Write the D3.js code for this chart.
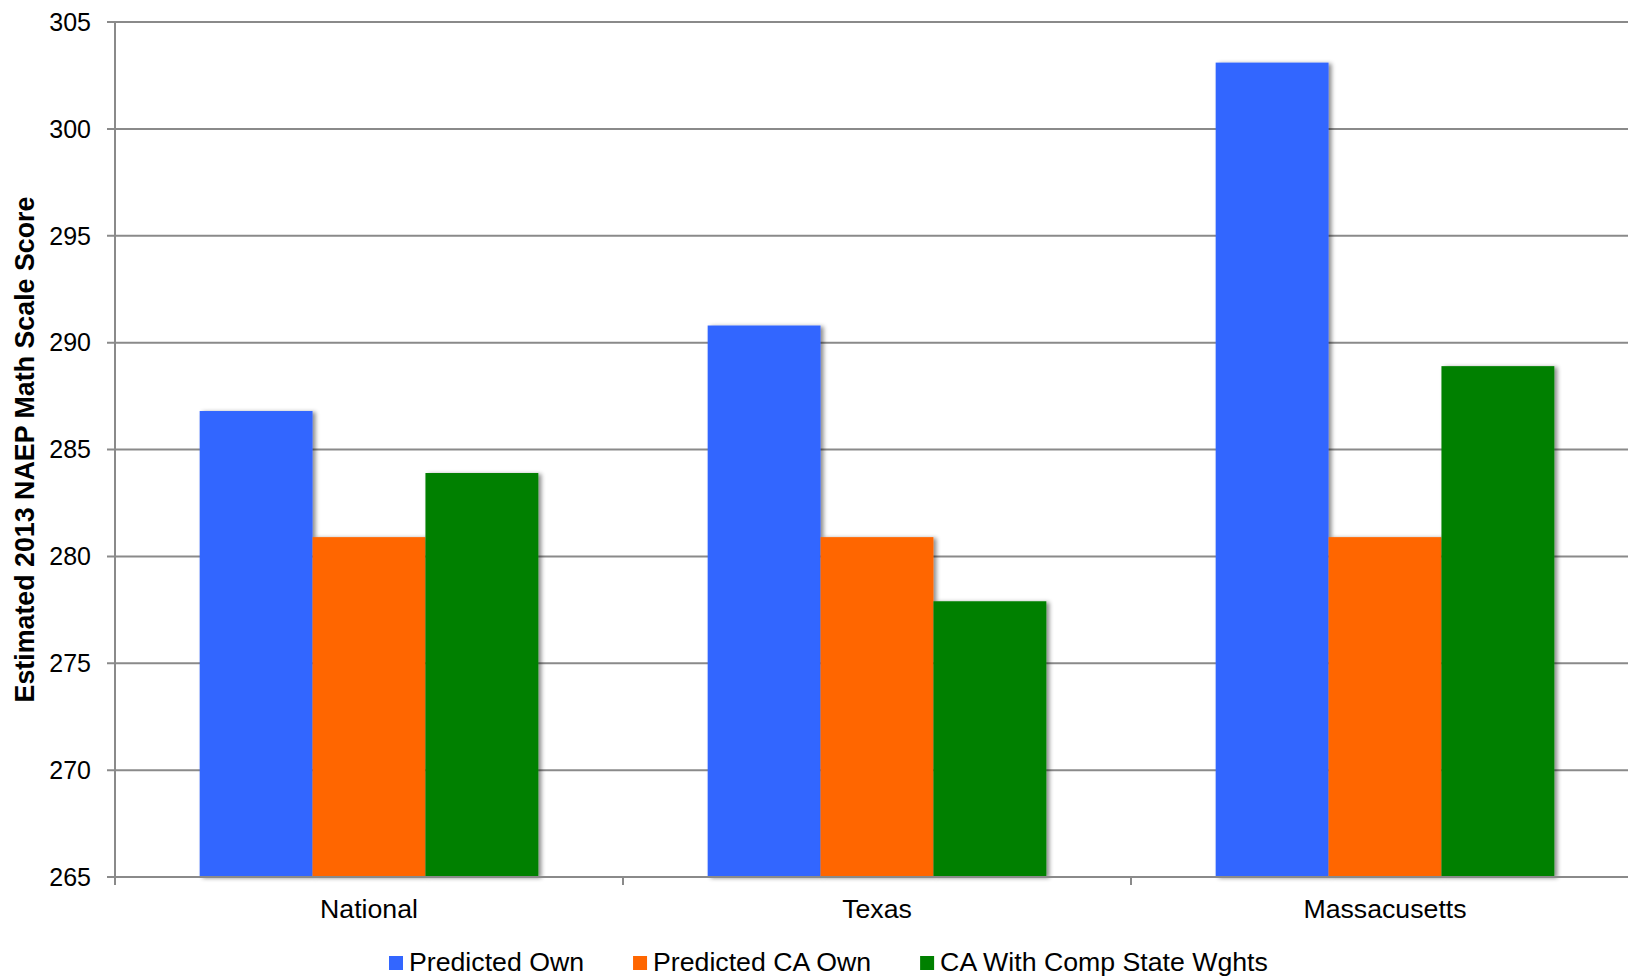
<!DOCTYPE html>
<html>
<head>
<meta charset="utf-8">
<script src="https://cdn.jsdelivr.net/npm/d3@7"></script>
<style>
  html, body { margin: 0; padding: 0; background: #fff; }
  svg { display: block; font-family: "Liberation Sans", Arial, Helvetica, sans-serif; }
</style>
</head>
<body>
<script>
// Estimated 2013 NAEP math scale scores by comparison group
const categories = ["National", "Texas", "Massacusetts"];
const seriesNames = ["Predicted Own", "Predicted CA Own", "CA With Comp State Wghts"];
const predictedOwn = [286.8, 290.8, 303.1];
const predictedCAOwn = [280.9, 280.9, 280.9];
const caCompStateWghts = [283.9, 277.9, 288.9];
const seriesColors = ["#3366ff", "#ff6600", "#008000"];
const yTicks = [265, 270, 275, 280, 285, 290, 295, 300, 305];
const yTitle = "Estimated 2013 NAEP Math Scale Score";

const seriesValues = [predictedOwn, predictedCAOwn, caCompStateWghts];

const W = 1628, H = 977;
const plotLeft = 115, plotTop = 22, plotBottom = 877;
const bandW = 508;

const svg = d3.select("body").append("svg")
  .attr("width", W).attr("height", H);

const defs = svg.append("defs");
const shadow = defs.append("filter").attr("id", "barShadow")
  .attr("x", "-10%").attr("y", "-10%").attr("width", "130%").attr("height", "130%");
shadow.append("feDropShadow")
  .attr("dx", 3).attr("dy", 1).attr("stdDeviation", 2.2)
  .attr("flood-color", "#000").attr("flood-opacity", 0.45);

const x0 = d3.scaleBand().domain(categories)
  .range([plotLeft, plotLeft + bandW * categories.length]).padding(0);
const x1 = d3.scaleBand().domain(seriesNames)
  .range([x0.bandwidth() / 6, x0.bandwidth() * 5 / 6]).padding(0);
const y = d3.scaleLinear().domain([265, 305]).range([plotBottom, plotTop]);

const gridColor = "#8a8a8a";

// horizontal gridlines with left tick stubs
svg.append("g").selectAll("line").data(yTicks.filter(t => t !== 265)).join("line")
  .attr("x1", plotLeft - 8).attr("x2", W + 20)
  .attr("y1", d => y(d)).attr("y2", d => y(d))
  .attr("stroke", gridColor).attr("stroke-width", 2);

// y tick labels
svg.append("g").selectAll("text").data(yTicks).join("text")
  .attr("x", 91).attr("y", d => y(d)).attr("dy", "0.35em")
  .attr("text-anchor", "end").attr("font-size", 25).attr("fill", "#000")
  .text(d => d);

// bars
const groups = svg.append("g").selectAll("g").data(categories).join("g")
  .attr("transform", c => `translate(${x0(c)},0)`);
groups.selectAll("rect")
  .data((c, i) => seriesNames.map((s, j) => ({ s, j, v: seriesValues[j][i] })))
  .join("rect")
  .attr("x", d => x1(d.s))
  .attr("width", x1.bandwidth())
  .attr("y", d => y(d.v))
  .attr("height", d => y(265) - y(d.v))
  .attr("fill", d => seriesColors[d.j])
  .attr("filter", "url(#barShadow)");

// y axis line
svg.append("line")
  .attr("x1", plotLeft).attr("x2", plotLeft).attr("y1", plotTop).attr("y2", plotBottom + 8)
  .attr("stroke", gridColor).attr("stroke-width", 2);

// x axis line with category boundary ticks
svg.append("line")
  .attr("x1", plotLeft - 8).attr("x2", W + 20).attr("y1", plotBottom).attr("y2", plotBottom)
  .attr("stroke", gridColor).attr("stroke-width", 2);
svg.append("g").selectAll("line").data(categories).join("line")
  .attr("x1", c => x0(c)).attr("x2", c => x0(c))
  .attr("y1", plotBottom).attr("y2", plotBottom + 8)
  .attr("stroke", gridColor).attr("stroke-width", 2);

// category labels
svg.append("g").selectAll("text").data(categories).join("text")
  .attr("x", c => x0(c) + x0.bandwidth() / 2).attr("y", 918)
  .attr("text-anchor", "middle").attr("font-size", 26.7).attr("fill", "#000")
  .text(c => c);

// y axis title
svg.append("text")
  .attr("transform", `translate(34,${(plotTop + plotBottom) / 2}) rotate(-90)`)
  .attr("text-anchor", "middle").attr("font-size", 26.8).attr("font-weight", "bold")
  .attr("fill", "#000")
  .text(yTitle);

// legend
const legend = svg.append("g");
let lx = 389;
seriesNames.forEach((name, j) => {
  legend.append("rect")
    .attr("x", lx).attr("y", 956).attr("width", 14).attr("height", 14)
    .attr("fill", seriesColors[j]);
  const t = legend.append("text")
    .attr("x", lx + 20).attr("y", 971)
    .attr("font-size", 26.7).attr("fill", "#000")
    .text(name);
  lx += 20 + t.node().getComputedTextLength() + 49;
});
</script>
</body>
</html>
